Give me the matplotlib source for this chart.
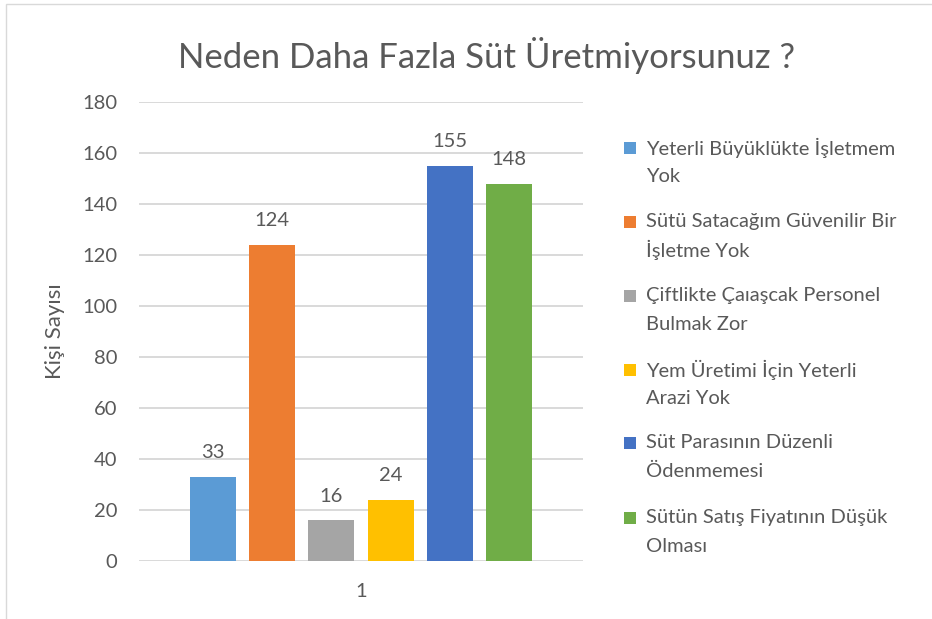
import matplotlib
matplotlib.use("Agg")
import matplotlib.pyplot as plt
from matplotlib.patches import Rectangle

plt.rcParams['font.family'] = ['Lato', 'DejaVu Sans']

title = "Neden Daha Fazla Süt Üretmiyorsunuz ?"
ylabel = "Kişi Sayısı"
category = ["1"]
series_labels = [
    "Yeterli Büyüklükte İşletmem\nYok",
    "Sütü Satacağım Güvenilir Bir\nİşletme Yok",
    "Çiftlikte Çaıaşcak Personel\nBulmak Zor",
    "Yem Üretimi İçin Yeterli\nArazi Yok",
    "Süt Parasının Düzenli\nÖdenmemesi",
    "Sütün Satış Fiyatının Düşük\nOlması",
]
values = [33, 124, 16, 24, 155, 148]
colors = ["#5B9BD5", "#ED7D31", "#A5A5A5", "#FFC000", "#4472C4", "#70AD47"]
yticks = [0, 20, 40, 60, 80, 100, 120, 140, 160, 180]

W, H = 932, 619
TXT = "#595959"
FS = 14.5
fig = plt.figure(figsize=(W / 100, H / 100), dpi=100)
fig.patch.set_facecolor("white")

# chart border (partially cropped in reference)
fig.patches.append(Rectangle((6 / W, -0.1), 1.2, 1 - 4 / H + 0.1, transform=fig.transFigure,
                             fill=False, edgecolor="#D9D9D9", lw=1.0))

ax = fig.add_axes([139 / W, 1 - 561 / H, 444 / W, 459 / H])
n = len(values)
step = 59.2 / 444
bw = 46 / 444
for i, (v, c) in enumerate(zip(values, colors)):
    x = (i - (n - 1) / 2) * step
    ax.bar(x, v, width=bw, color=c, zorder=3)
    ax.annotate(str(v), (x, v), xytext=(0, 17.3), textcoords="offset points",
                ha="center", va="center", fontsize=FS, color=TXT)

ax.set_xlim(-0.5, 0.5)
ax.set_ylim(0, 180)
ax.set_yticks(yticks)
ax.set_xticks([0])
ax.set_xticklabels(category)
ax.tick_params(axis="both", length=0, labelsize=FS, labelcolor=TXT)
ax.tick_params(axis="y", pad=15.5)
ax.tick_params(axis="x", pad=16)
for s in ax.spines.values():
    s.set_visible(False)
ax.grid(axis="y", color="#D9D9D9", lw=1.4, zorder=0)
ax.set_axisbelow(True)
ax.set_facecolor("none")

fig.text(486 / W, 1 - 55 / H, title, ha="center", va="center", fontsize=25,
         color=TXT)
fig.text(55 / W, 1 - 331 / H, ylabel, rotation=90, ha="center", va="center",
         fontsize=16, color=TXT)

# legend
ys = [148, 222, 296, 370, 443, 518]
for lab, c, y in zip(series_labels, colors, ys):
    fig.patches.append(Rectangle(((630 - 6) / W, 1 - (y + 6) / H), 12 / W, 12 / H,
                                 transform=fig.transFigure, facecolor=c, edgecolor="none"))
    for k, line in enumerate(lab.split("\n")):
        fig.text(646 / W, 1 - (y + 28 * k) / H, line, ha="left", va="center",
                 fontsize=FS, color=TXT)

fig.savefig("out.png", dpi=100, facecolor="white")
